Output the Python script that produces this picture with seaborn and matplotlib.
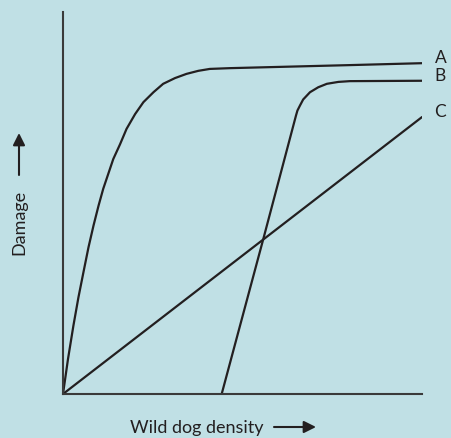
import numpy as np
import pandas as pd
import matplotlib
matplotlib.use('Agg')
import matplotlib.pyplot as plt
import seaborn as sns

# ── Data (axes run 0..10 on both sides) ──────────────────────────────────
a_x = [0, 0.14, 0.29, 0.43, 0.57, 0.71, 0.85, 0.99, 1.12, 1.26, 1.40, 1.59,
       1.77, 2.01, 2.24, 2.52, 2.79, 3.12, 3.44, 3.77, 4.09, 4.65, 8.0, 10.0]
a_y = [0, 0.92, 1.79, 2.53, 3.19, 3.84, 4.41, 4.93, 5.37, 5.76, 6.15, 6.54,
       6.94, 7.33, 7.64, 7.90, 8.12, 8.27, 8.38, 8.46, 8.51, 8.53, 8.61, 8.66]

b_x = [4.42, 5.58, 6.49, 6.53, 6.60, 6.69, 6.88, 7.11, 7.35, 7.67, 7.99, 10.0]
b_y = [0, 4.06, 7.29, 7.42, 7.55, 7.71, 7.90, 8.03, 8.12, 8.17, 8.19, 8.20]

c_x = [0, 10.0]
c_y = [0, 7.25]

curve_labels = ["A", "B", "C"]

BG = "#c0e0e5"
INK = "#231f20"

sns.set_theme(style="white")
plt.rcParams['font.family'] = ['Lato', 'DejaVu Sans']

fig = plt.figure(figsize=(4.51, 4.39), dpi=100, facecolor=BG)
ax = fig.add_axes([63/451, 44/439, 359/451, 382/439])
ax.set_facecolor(BG)

curves = [(a_x, a_y), (b_x, b_y), (c_x, c_y)]
for (xs, ys), lab in zip(curves, curve_labels):
    df = pd.DataFrame({"x": xs, "y": ys})
    sns.lineplot(data=df, x="x", y="y", ax=ax, color=INK, linewidth=1.6,
                 sort=False, estimator=None)
    ax.text(10.35, ys[-1] + 0.15, lab, fontsize=12.5, color=INK,
            va='center', ha='left', clip_on=False)

ax.set_xlim(0, 10)
ax.set_ylim(0, 10)
ax.set_xticks([])
ax.set_yticks([])
ax.set_xlabel("")
ax.set_ylabel("")
for side in ["top", "right"]:
    ax.spines[side].set_visible(False)
for side in ["left", "bottom"]:
    ax.spines[side].set_color("#3a3a3a")
    ax.spines[side].set_linewidth(1.5)

# axis captions with arrows
fig.text(130/451, 1 - 428/439, "Wild dog density", fontsize=13, color=INK,
         ha='left', va='center')
fig.add_artist(matplotlib.patches.FancyArrowPatch(
    (274/451, 1 - 428/439), (316/451, 1 - 428/439), transform=fig.transFigure,
    arrowstyle='-|>', mutation_scale=18, color=INK, linewidth=1.5,
    shrinkA=0, shrinkB=0))

fig.text(19/451, 1 - 222/439, "Damage", fontsize=13, color=INK,
         ha='center', va='center', rotation=90)
fig.add_artist(matplotlib.patches.FancyArrowPatch(
    (19/451, 1 - 176/439), (19/451, 1 - 134/439), transform=fig.transFigure,
    arrowstyle='-|>', mutation_scale=18, color=INK, linewidth=1.5,
    shrinkA=0, shrinkB=0))

fig.savefig("out.png", dpi=100, facecolor=BG)
